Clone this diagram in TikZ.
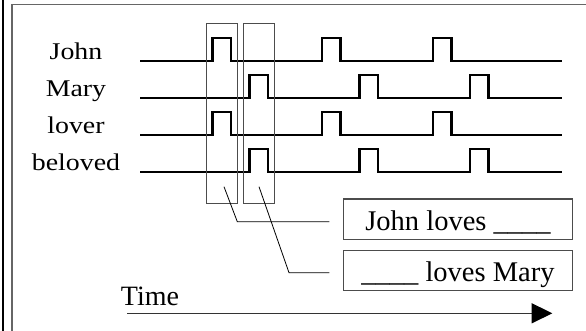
\documentclass[tikz,border=0pt]{standalone}
\usepackage{fontspec}
\setmainfont{Liberation Serif}
\usetikzlibrary{arrows.meta}

\begin{document}
\begin{tikzpicture}[x=1pt, y=-1pt,
  signal/.style={line width=2.4pt, line join=miter},
  window/.style={draw=black!70, line width=0.9pt, inner sep=0pt},
  leader/.style={line width=0.8pt},
  phrasebox/.style={draw=black!70, line width=1.1pt, inner sep=0pt,
    minimum width=229.4pt, font=\fontsize{28.5}{30}\selectfont},
  rolename/.style={anchor=base, inner sep=0pt, font=\fontsize{24}{26}\selectfont},
]
\useasboundingbox (0,0) rectangle (586,331);

% page frame
\draw[line width=1.1pt] (3,0) -- (3,331);
\draw[black!60, line width=1.4pt] (12,331) -- (12,4.7) -- (586,4.7);

% role labels
\node[rolename] (john)    at (76,59.3)  {\scalebox{1.16}[1]{John}};
\node[rolename] (mary)    at (76,96.6)  {\scalebox{1.16}[1]{Mary}};
\node[rolename] (lover)   at (76,133.4) {\scalebox{1.16}[1]{lover}};
\node[rolename] (beloved) at (76,170.4) {\scalebox{1.16}[1]{beloved}};

% spike trains: pulse onsets, width 18.5, height 23
\draw[signal] (140,61)
  \foreach \p in {212.5,322,433} {-- (\p,61) -- (\p,38) -- (\p+18.5,38) -- (\p+18.5,61)} -- (562,61);
\draw[signal] (140,98)
  \foreach \p in {249.5,359.5,470} {-- (\p,98) -- (\p,75) -- (\p+18.5,75) -- (\p+18.5,98)} -- (562,98);
\draw[signal] (140,135)
  \foreach \p in {212.5,322,433} {-- (\p,135) -- (\p,112) -- (\p+18.5,112) -- (\p+18.5,135)} -- (562,135);
\draw[signal] (140,172)
  \foreach \p in {249.5,359.5,470} {-- (\p,172) -- (\p,149) -- (\p+18.5,149) -- (\p+18.5,172)} -- (562,172);

% time windows around synchronous pulses
\node[window, minimum width=30.6pt, minimum height=180.3pt] (w1) at (222,113.15) {};
\node[window, minimum width=30.7pt, minimum height=180.3pt] (w2) at (258.65,113.15) {};

% bound propositions
\node[phrasebox, text height=31pt, text depth=9.3pt] (p1) at (458,219.15) {John loves \_\_\_\_};
\node[phrasebox, text height=30.5pt, text depth=9.5pt] (p2) at (458,270.6) {\_\_\_\_ loves Mary};

% leaders from windows to propositions
\coordinate (a1) at (224,186.7);
\coordinate (b1) at (237.3,221.7);
\coordinate (c1) at (329.3,221.7);
\coordinate (a2) at (259,186.7);
\coordinate (b2) at (289,272.7);
\coordinate (c2) at (329.3,272.7);
\draw[leader] (a1) -- (b1) -- (c1);
\draw[leader] (a2) -- (b2) -- (c2);

% time axis
\node[anchor=base west, inner sep=0pt, font=\fontsize{28}{30}\selectfont] (time) at (120.7,305) {Time};
\coordinate (t0) at (127,313.3);
\coordinate (t1) at (552.3,313.3);
\draw[black!80, line width=1.1pt, -{Triangle[length=20.6pt,width=20pt,fill=black,color=black]}] (t0) -- (t1);
\end{tikzpicture}
\end{document}
